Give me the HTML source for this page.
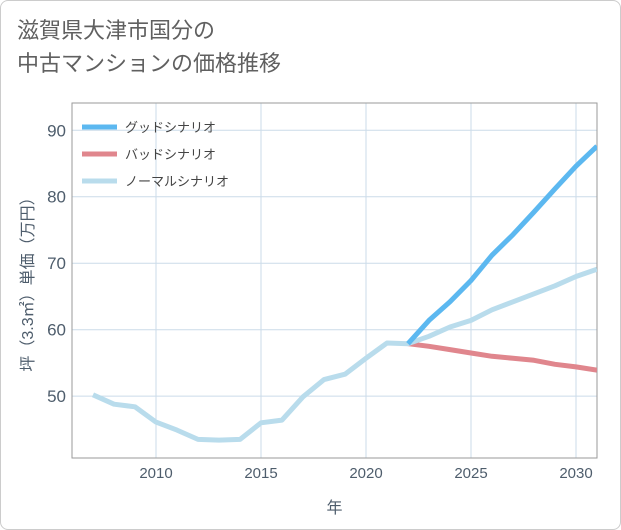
<!DOCTYPE html>
<html><head><meta charset="utf-8">
<style>
html,body{margin:0;padding:0;background:#fff;}
body{width:621px;height:530px;overflow:hidden;font-family:"Liberation Sans","Noto Sans CJK JP",sans-serif;}
#frame{position:absolute;left:0;top:0;width:619px;height:528px;border:1px solid #ccc;border-radius:8px;}
#title{position:absolute;left:17px;top:14px;font-size:22px;line-height:33px;color:#606060;font-family:"Liberation Sans","Noto Sans CJK JP",sans-serif;}
</style></head>
<body>
<div id="frame"></div>
<div id="title">滋賀県大津市国分の<br>中古マンションの価格推移</div>
<svg id="chart" width="621" height="530" style="position:absolute;left:0;top:0"></svg>
<script>
const years=[2007,2008,2009,2010,2011,2012,2013,2014,2015,2016,2017,2018,2019,2020,2021,2022,2023,2024,2025,2026,2027,2028,2029,2030,2031];
const normalValues=[50.2,48.8,48.4,46.1,44.9,43.5,43.4,43.5,46.0,46.4,49.9,52.5,53.3,55.7,58.0,57.9,59.0,60.4,61.4,63.0,64.2,65.4,66.6,68.0,69.1];
const futureYears=[2022,2023,2024,2025,2026,2027,2028,2029,2030,2031];
const goodValues=[57.9,61.4,64.2,67.4,71.2,74.3,77.7,81.2,84.6,87.6];
const badValues=[57.9,57.5,57.0,56.5,56.0,55.7,55.4,54.8,54.4,53.9];
const xTicks=[2010,2015,2020,2025,2030];
const yTicks=[50,60,70,80,90];
const legendLabels=["グッドシナリオ","バッドシナリオ","ノーマルシナリオ"];

const L=72,R=597,T=103,B=458,X0=2006,X1=2031,Y0=40.7,Y1=94.1;
const xs=v=>L+(v-X0)/(X1-X0)*(R-L);
const ys=v=>B-(v-Y0)/(Y1-Y0)*(B-T);
const svg=document.getElementById('chart');
const NS='http://www.w3.org/2000/svg';
function mk(tag,attrs){const e=document.createElementNS(NS,tag);for(const k in attrs)e.setAttribute(k,attrs[k]);svg.appendChild(e);return e;}

const clip=mk('clipPath',{id:'pc'});
const cr=document.createElementNS(NS,'rect');cr.setAttribute('x',L);cr.setAttribute('y',T);cr.setAttribute('width',R-L);cr.setAttribute('height',B-T);clip.appendChild(cr);

xTicks.forEach(t=>{
 const g=mk('line',{x1:xs(t),x2:xs(t),y1:T,y2:B,stroke:'#cbdbe9','stroke-width':1});
 
 
 const tx=mk('text',{x:xs(t),y:B+20,'text-anchor':'middle','font-size':15,fill:'#4e5d6c'});
 tx.textContent=t;
 
 
});
yTicks.forEach(t=>{
 const g=mk('line',{x1:L,x2:R,y1:ys(t),y2:ys(t),stroke:'#cbdbe9','stroke-width':1});
 
 
 const tx=mk('text',{x:L-6,y:ys(t)+6,'text-anchor':'end','font-size':17,fill:'#4e5d6c'});
 tx.textContent=t;
 
 
});
const ax=mk('rect',{x:L,y:T,width:R-L,height:B-T,fill:'none',stroke:'#9a9a9a','stroke-width':1});



function series(xv,yv,color,name){
 const d=xv.map((x,i)=>(i?'L':'M')+xs(x).toFixed(1)+','+ys(yv[i]).toFixed(1)).join('');
 const p=mk('path',{d:d,fill:'none',stroke:color,'stroke-width':5,'stroke-linejoin':'round','clip-path':'url(#pc)'});
 
 
}
series(futureYears,badValues,'#e0868d','bad-scenario-line');
series(years,normalValues,'#b9dcec','normal-scenario-line');
series(futureYears,goodValues,'#5cb8f0','good-scenario-line');

const lc=['#5cb8f0','#e0868d','#b9dcec'];
legendLabels.forEach((lab,i)=>{
 const y=127+i*27;
 const ln=mk('line',{x1:82,x2:117,y1:y,y2:y,stroke:lc[i],'stroke-width':5});
 
 
 const tx=mk('text',{x:125,y:y+5,'font-size':13,fill:'#444'});
 tx.textContent=lab;
 
 
});

const xt=mk('text',{x:(L+R)/2,y:513,'text-anchor':'middle','font-size':16,fill:'#4e5d6c'});
xt.textContent='年';


const yt=mk('text',{x:0,y:0,'text-anchor':'middle','font-size':16,fill:'#4e5d6c',transform:`translate(33,${(T+B)/2}) rotate(-90)`});
yt.textContent='坪（3.3㎡）単価（万円）';


</script>
</body></html>
